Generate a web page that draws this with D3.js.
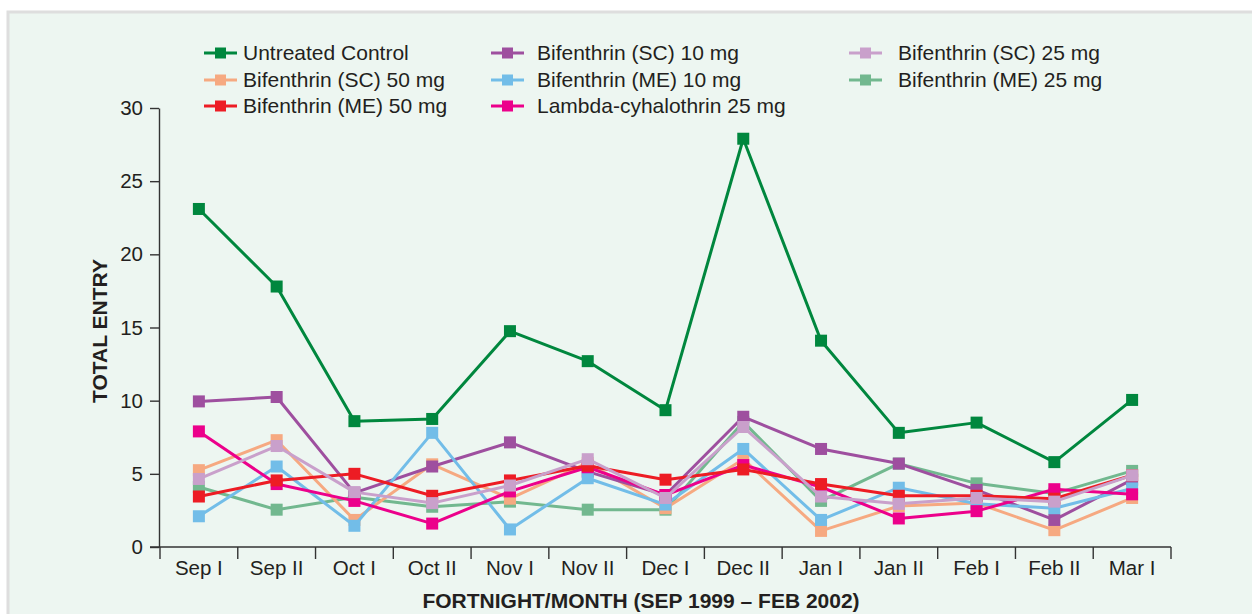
<!DOCTYPE html>
<html>
<head>
<meta charset="utf-8">
<script src="https://cdn.jsdelivr.net/npm/d3@7"></script>
<style>
  body { margin: 0; background: #fff; }
  svg text { font-family: "Liberation Sans", Arial, sans-serif; fill: #231f20; }
</style>
</head>
<body>
<svg id="chart" width="1252" height="614"></svg>
<script>
// fortnights on the x axis
const categories = ['Sep I','Sep II','Oct I','Oct II','Nov I','Nov II','Dec I','Dec II','Jan I','Jan II','Feb I','Feb II','Mar I'];
const yTicks = [0, 5, 10, 15, 20, 25, 30];

// series values (total entry)
const untreated = [23.1, 17.8, 8.6, 8.75, 14.75, 12.7, 9.35, 27.9, 14.1, 7.8, 8.5, 5.8, 10.05];
const sc10      = [9.95, 10.25, 3.7, 5.5, 7.15, 5.15, 3.55, 8.9, 6.7, 5.7, 3.9, 1.85, 4.6];
const sc25      = [4.65, 6.9, 3.75, 3.0, 4.2, 6.0, 3.35, 8.2, 3.45, 2.95, 3.35, 3.1, 4.9];
const sc50      = [5.25, 7.3, 1.85, 5.65, 3.3, 5.75, 2.65, 6.0, 1.1, 2.8, 3.0, 1.15, 3.35];
const me10      = [2.1, 5.5, 1.45, 7.8, 1.2, 4.7, 2.9, 6.7, 1.85, 4.05, 2.95, 2.65, 4.0];
const me25      = [4.1, 2.55, 3.4, 2.75, 3.1, 2.55, 2.55, 8.55, 3.15, 5.7, 4.35, 3.65, 5.2];
const me50      = [3.45, 4.55, 5.0, 3.5, 4.55, 5.55, 4.6, 5.3, 4.3, 3.5, 3.5, 3.3, 4.9];
const lambda    = [7.9, 4.3, 3.15, 1.6, 3.8, 5.45, 3.55, 5.6, 4.1, 1.95, 2.45, 3.95, 3.6];

const seriesNames = ['Untreated Control','Bifenthrin (SC) 10 mg','Bifenthrin (SC) 25 mg',
  'Bifenthrin (SC) 50 mg','Bifenthrin (ME) 10 mg','Bifenthrin (ME) 25 mg',
  'Bifenthrin (ME) 50 mg','Lambda-cyhalothrin 25 mg'];
const seriesValues = [untreated, sc10, sc25, sc50, me10, me25, me50, lambda];
const colors = ['#00873e','#9e4f9f','#c9a0cb','#f6a981','#72bde8','#72b88f','#ed1c24','#ec008b'];

const series = seriesNames.map((name, i) => ({ name, values: seriesValues[i], color: colors[i] }));
// stacking order on the plot (bottom first)
const drawOrder = [5, 3, 1, 4, 7, 6, 2, 0];

const svg = d3.select('#chart');

// panel background
svg.append('rect').attr('x', 8).attr('y', 12).attr('width', 1250).attr('height', 610)
  .attr('fill', '#edf6f1').attr('stroke', '#dedede').attr('stroke-width', 3);

const x = d3.scaleBand().domain(categories).range([160, 1171]);
const y = d3.scaleLinear().domain([0, 30]).range([547, 108]);
const cx = c => x(c) + x.bandwidth() / 2;

// y axis
const yAxis = svg.append('g').attr('transform', 'translate(159,0)')
  .call(d3.axisLeft(y).tickValues(yTicks).tickSize(9).tickSizeOuter(0).tickPadding(7));
yAxis.select('.domain').attr('stroke', '#333').attr('stroke-width', 1.4);
yAxis.selectAll('.tick line').attr('stroke', '#333').attr('stroke-width', 1.4);
yAxis.selectAll('.tick text').style('font-size', '20.5px').attr('fill', '#231f20');

// x axis: base line, band separators, labels
svg.append('line').attr('x1', 150).attr('x2', 1171).attr('y1', 547).attr('y2', 547)
  .attr('stroke', '#333').attr('stroke-width', 1.4);
const bounds = categories.map(c => x(c)).concat([x.range()[1]]);
svg.append('g').selectAll('line').data(bounds).join('line')
  .attr('x1', d => d).attr('x2', d => d).attr('y1', 547).attr('y2', 559)
  .attr('stroke', '#333').attr('stroke-width', 1.4);
svg.append('g').selectAll('text').data(categories).join('text')
  .attr('x', d => cx(d)).attr('y', 575).attr('text-anchor', 'middle')
  .style('font-size', '20.5px').text(d => d);

// axis titles
svg.append('text').attr('x', 641).attr('y', 608).attr('text-anchor', 'middle')
  .style('font-size', '21px').style('font-weight', 'bold')
  .text('FORTNIGHT/MONTH (SEP 1999 \u2013 FEB 2002)');
svg.append('text').attr('transform', 'translate(107,331) rotate(-90)').attr('text-anchor', 'middle')
  .style('font-size', '21px').style('font-weight', 'bold').text('TOTAL ENTRY');

// lines + markers
const line = d3.line().x((d, i) => cx(categories[i])).y(d => y(d));
const plot = svg.append('g');
drawOrder.forEach(k => {
  const s = series[k];
  plot.append('path').datum(s.values).attr('d', line)
    .attr('fill', 'none').attr('stroke', s.color).attr('stroke-width', 3).attr('stroke-linejoin', 'round');
  plot.append('g').selectAll('rect').data(s.values).join('rect')
    .attr('x', (d, i) => cx(categories[i]) - 6).attr('y', d => y(d) - 6)
    .attr('width', 12).attr('height', 12).attr('fill', s.color);
});

// legend (3 columns, row-major)
const colLine = [204, 491, 849];
const colText = [243, 537, 898];
const rowY = [53, 80, 106];
const legend = svg.append('g').selectAll('g').data(series).join('g')
  .attr('transform', (d, i) => `translate(0,${rowY[Math.floor(i / 3)]})`);
legend.append('line')
  .attr('x1', (d, i) => colLine[i % 3]).attr('x2', (d, i) => colLine[i % 3] + 33)
  .attr('y1', 0).attr('y2', 0).attr('stroke', d => d.color).attr('stroke-width', 3);
legend.append('rect')
  .attr('x', (d, i) => colLine[i % 3] + 11).attr('y', -5.5).attr('width', 11).attr('height', 11)
  .attr('fill', d => d.color);
legend.append('text')
  .attr('x', (d, i) => colText[i % 3]).attr('y', 0).attr('dy', '0.35em')
  .style('font-size', '21px').text(d => d.name);
</script>
</body>
</html>
